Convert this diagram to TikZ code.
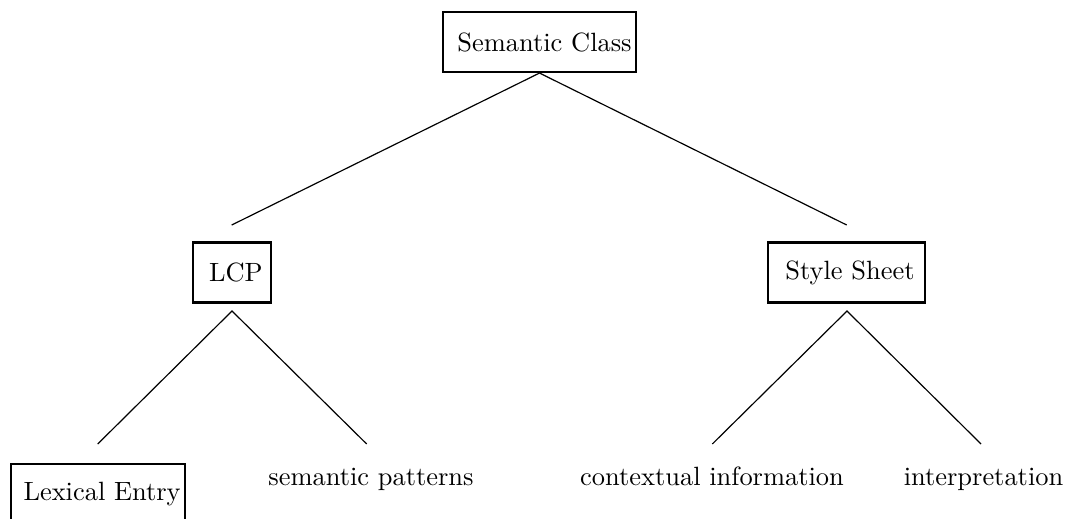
\documentclass[tikz,border=0pt]{standalone}
\begin{document}
\begin{tikzpicture}[x=0.3785pt,y=-0.3785pt,
  box/.style={draw,line width=0.8pt,inner xsep=0pt,inner ysep=0pt,minimum height=22.7pt},
  leaf/.style={inner sep=0pt,anchor=base},
  branch/.style={line width=0.45pt}]
\useasboundingbox (0,0) rectangle (1067,518);

% tree nodes
\node[box] (sc) at (539.5,42) {\kern5.3pt Semantic Class\kern1.5pt};
\node[box] (lcp) at (232,272.5) {\kern6.2pt LCP\kern3.3pt};
\node[box] (ss) at (846.5,272.5) {\kern6.6pt Style Sheet\kern4.0pt};
\node[box] (le) at (98,494) {\kern4.7pt Lexical Entry\kern1.6pt};
\node[leaf] (sp) at (371,485) {semantic patterns};
\node[leaf] (ci) at (712,485) {contextual information};
\node[leaf] (ip) at (983.5,485) {interpretation};

% branch end points (branches stop short of the daughters)
\coordinate (lcpIn) at (231.7,225);
\coordinate (ssIn) at (846.7,225);
\coordinate (lcpOut) at (232,311);
\coordinate (ssOut) at (847,311);
\coordinate (leIn) at (97.7,444);
\coordinate (spIn) at (366.7,444);
\coordinate (ciIn) at (712.3,444);
\coordinate (ipIn) at (981,444);

% branches
\draw[branch] (sc.south) -- (lcpIn);
\draw[branch] (sc.south) -- (ssIn);
\draw[branch] (leIn) -- (lcpOut) -- (spIn);
\draw[branch] (ciIn) -- (ssOut) -- (ipIn);
\end{tikzpicture}
\end{document}
